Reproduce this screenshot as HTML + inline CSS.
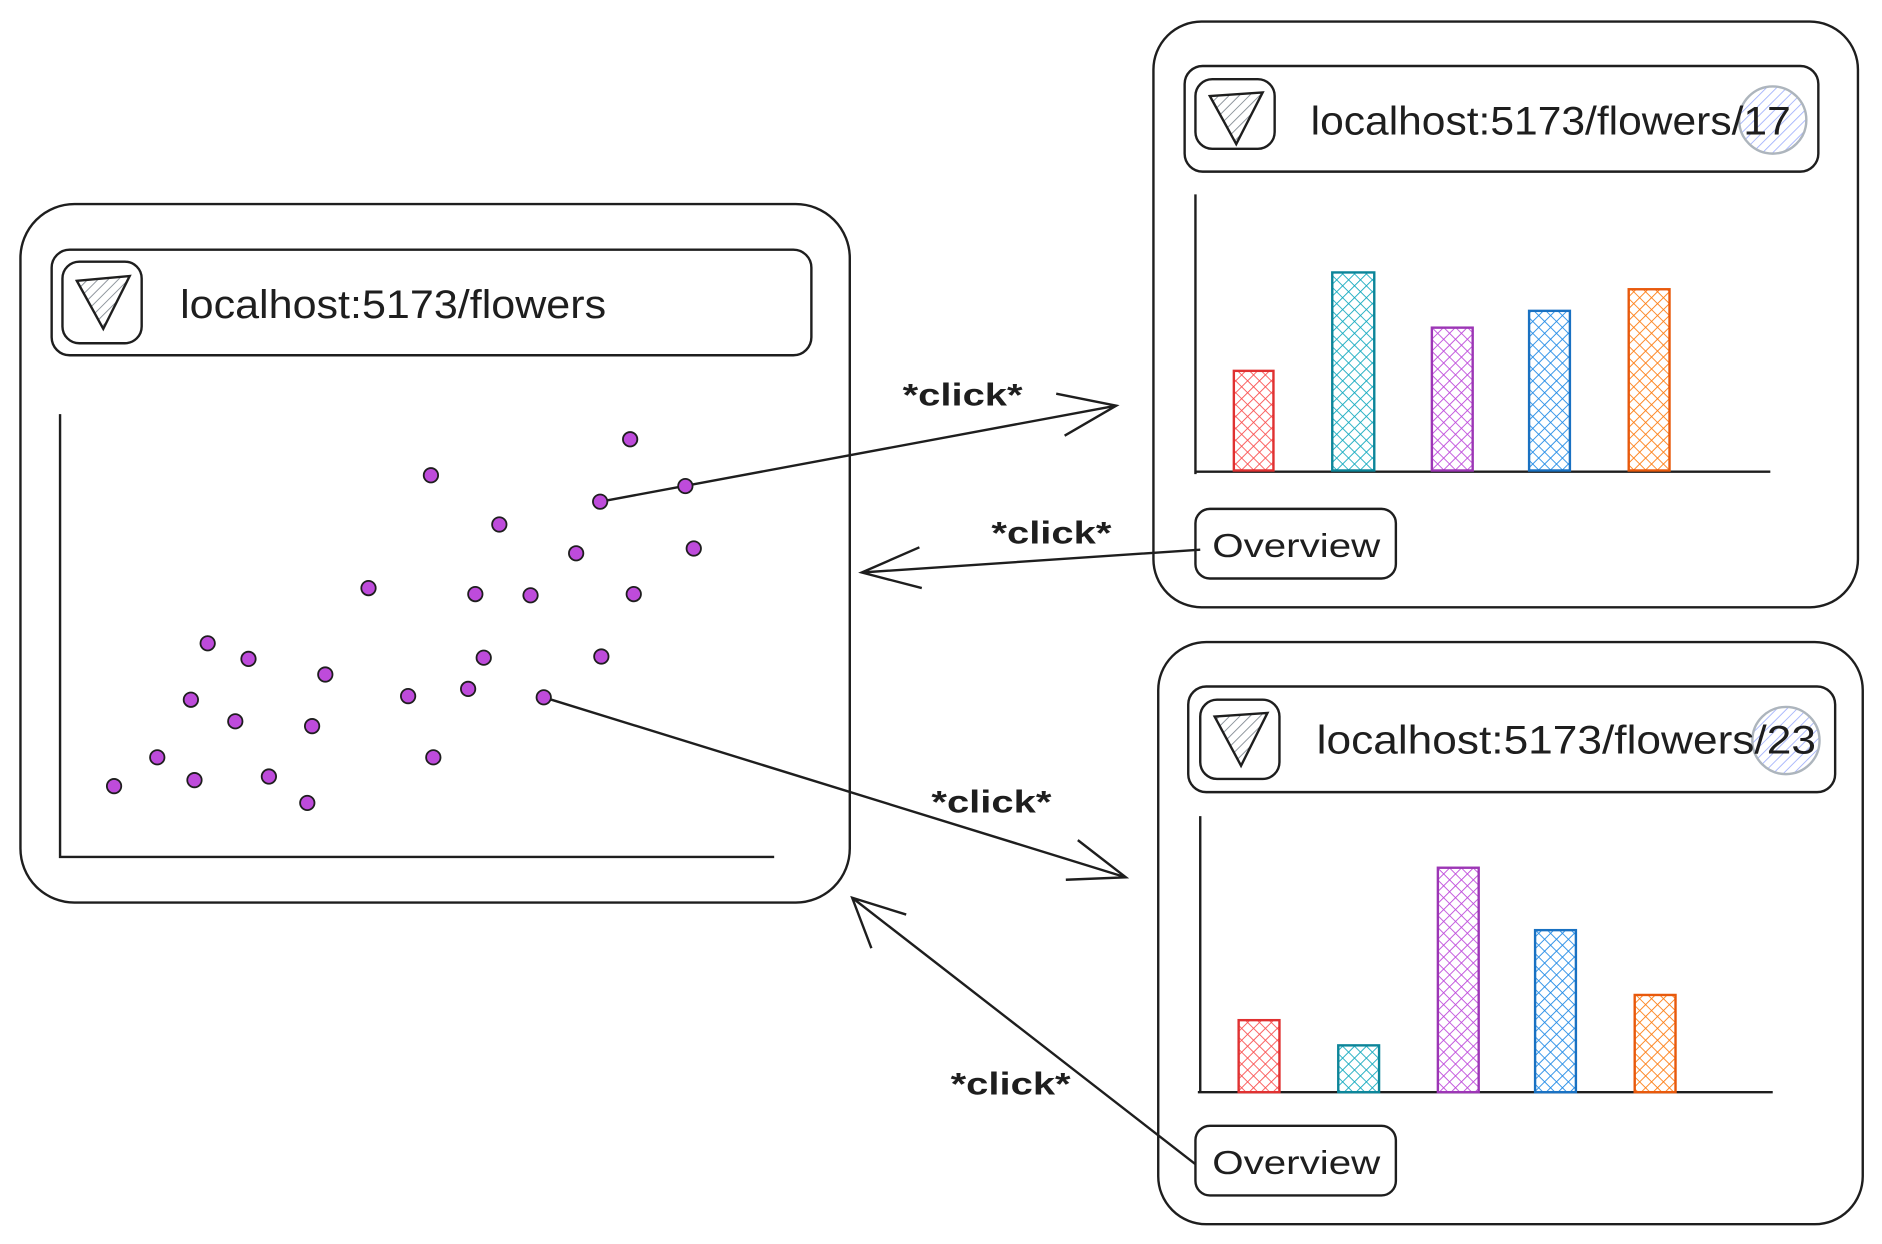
<!DOCTYPE html>
<html><head><meta charset="utf-8"><style>
html,body{margin:0;padding:0;background:#fff;}
svg{display:block;}
text{font-family:"Liberation Sans",sans-serif;fill:#1e1e1e;}
</style></head><body>
<svg width="1882" height="1244" viewBox="0 0 1568 1036.5" xmlns="http://www.w3.org/2000/svg">
<defs>
<pattern id="hg" width="6" height="6" patternUnits="userSpaceOnUse" patternTransform="rotate(45)"><line x1="0" y1="0" x2="0" y2="6" stroke="#868e96" stroke-width="1.5"/></pattern>
<pattern id="hb" width="6" height="6" patternUnits="userSpaceOnUse" patternTransform="rotate(45)"><line x1="0" y1="0" x2="0" y2="6" stroke="#a5b4fc" stroke-width="1.5"/></pattern>
<pattern id="pr" width="7" height="7" patternUnits="userSpaceOnUse" patternTransform="rotate(45)"><rect width="7" height="7" fill="#fff"/><path d="M0 0V7M0 0H7" stroke="#fa5252" stroke-width="1.5"/></pattern>
<pattern id="pt" width="7" height="7" patternUnits="userSpaceOnUse" patternTransform="rotate(45)"><rect width="7" height="7" fill="#fff"/><path d="M0 0V7M0 0H7" stroke="#15aabf" stroke-width="1.5"/></pattern>
<pattern id="pp" width="7" height="7" patternUnits="userSpaceOnUse" patternTransform="rotate(45)"><rect width="7" height="7" fill="#fff"/><path d="M0 0V7M0 0H7" stroke="#be4bdb" stroke-width="1.5"/></pattern>
<pattern id="pb" width="7" height="7" patternUnits="userSpaceOnUse" patternTransform="rotate(45)"><rect width="7" height="7" fill="#fff"/><path d="M0 0V7M0 0H7" stroke="#228be6" stroke-width="1.5"/></pattern>
<pattern id="po" width="7" height="7" patternUnits="userSpaceOnUse" patternTransform="rotate(45)"><rect width="7" height="7" fill="#fff"/><path d="M0 0V7M0 0H7" stroke="#fd7e14" stroke-width="1.5"/></pattern>
</defs>
<g fill="none" stroke="#1e1e1e" stroke-width="2">
<rect x="17" y="170" width="691" height="582" rx="45"/>
<rect x="43" y="208" width="633" height="88" rx="15"/>
<rect x="52" y="218" width="66" height="68" rx="14"/>
<path d="M64 234 L108 230 L86 274 Z" fill="url(#hg)"/>
<path d="M50 345 V714 H645"/>
<rect x="961" y="18" width="587" height="488" rx="40"/>
<rect x="987" y="55" width="528" height="88" rx="15"/>
<rect x="996" y="66" width="66" height="58" rx="14"/>
<path d="M1008 80 L1052 77 L1030 120 Z" fill="url(#hg)"/>
<circle cx="1477" cy="100" r="28" fill="url(#hb)" stroke="#adb5bd"/>
<path d="M996 162 V395 M996 393 H1475"/>
<rect x="996" y="424" width="167" height="58" rx="12"/>
<rect x="965" y="535" width="587" height="485" rx="40"/>
<rect x="990" y="572" width="539" height="88" rx="15"/>
<rect x="1000" y="583" width="66" height="66" rx="14"/>
<path d="M1012 597 L1056 594 L1034 638 Z" fill="url(#hg)"/>
<circle cx="1488" cy="617" r="28" fill="url(#hb)" stroke="#adb5bd"/>
<path d="M1000 680 V910 M998 910 H1477"/>
<rect x="996" y="938" width="167" height="58" rx="12"/>
<path d="M500 418 L930 338 M880 328 L930 338 L887 363"/>
<path d="M1000 458 L718 477 M766 456 L718 477 L768 490"/>
<path d="M453 581 L938 731 M898 700 L938 731 L888 733"/>
<path d="M996 970 L710 748 M726 790 L710 748 L755 762"/>
</g>
<g stroke-width="2">
<rect x="1028" y="309" width="33" height="83" fill="url(#pr)" stroke="#e03131"/>
<rect x="1110" y="227" width="35" height="165" fill="url(#pt)" stroke="#0c8599"/>
<rect x="1193" y="273" width="34" height="119" fill="url(#pp)" stroke="#9c36b5"/>
<rect x="1274" y="259" width="34" height="133" fill="url(#pb)" stroke="#1971c2"/>
<rect x="1357" y="241" width="34" height="151" fill="url(#po)" stroke="#e8590c"/>
<rect x="1032" y="850" width="34" height="60" fill="url(#pr)" stroke="#e03131"/>
<rect x="1115" y="871" width="34" height="39" fill="url(#pt)" stroke="#0c8599"/>
<rect x="1198" y="723" width="34" height="187" fill="url(#pp)" stroke="#9c36b5"/>
<rect x="1279" y="775" width="34" height="135" fill="url(#pb)" stroke="#1971c2"/>
<rect x="1362" y="829" width="34" height="81" fill="url(#po)" stroke="#e8590c"/>
</g>
<g fill="#be4bdb" stroke="#1e1e1e" stroke-width="1.5">
<circle cx="525" cy="366" r="6"/><circle cx="359" cy="396" r="6"/><circle cx="571" cy="405" r="6"/><circle cx="500" cy="418" r="6"/><circle cx="416" cy="437" r="6"/><circle cx="578" cy="457" r="6"/><circle cx="480" cy="461" r="6"/><circle cx="307" cy="490" r="6"/><circle cx="396" cy="495" r="6"/><circle cx="442" cy="496" r="6"/><circle cx="528" cy="495" r="6"/><circle cx="173" cy="536" r="6"/><circle cx="207" cy="549" r="6"/><circle cx="271" cy="562" r="6"/><circle cx="403" cy="548" r="6"/><circle cx="501" cy="547" r="6"/><circle cx="159" cy="583" r="6"/><circle cx="340" cy="580" r="6"/><circle cx="390" cy="574" r="6"/><circle cx="453" cy="581" r="6"/><circle cx="196" cy="601" r="6"/><circle cx="260" cy="605" r="6"/><circle cx="131" cy="631" r="6"/><circle cx="361" cy="631" r="6"/><circle cx="95" cy="655" r="6"/><circle cx="162" cy="650" r="6"/><circle cx="224" cy="647" r="6"/><circle cx="256" cy="669" r="6"/>
</g>
<text x="150" y="265" font-size="33" textLength="355" lengthAdjust="spacingAndGlyphs">localhost:5173/flowers</text>
<text x="1092" y="112" font-size="33" textLength="400" lengthAdjust="spacingAndGlyphs">localhost:5173/flowers/17</text>
<text x="1097" y="628" font-size="33" textLength="416" lengthAdjust="spacingAndGlyphs">localhost:5173/flowers/23</text>
<text x="1010" y="464" font-size="28" textLength="140" lengthAdjust="spacingAndGlyphs">Overview</text>
<text x="1010" y="978" font-size="28" textLength="140" lengthAdjust="spacingAndGlyphs">Overview</text>
<text x="752" y="338" font-size="26" font-weight="bold" textLength="100" lengthAdjust="spacingAndGlyphs">*click*</text>
<text x="826" y="453" font-size="26" font-weight="bold" textLength="100" lengthAdjust="spacingAndGlyphs">*click*</text>
<text x="776" y="677" font-size="26" font-weight="bold" textLength="100" lengthAdjust="spacingAndGlyphs">*click*</text>
<text x="792" y="912" font-size="26" font-weight="bold" textLength="100" lengthAdjust="spacingAndGlyphs">*click*</text>
</svg>
</body></html>
